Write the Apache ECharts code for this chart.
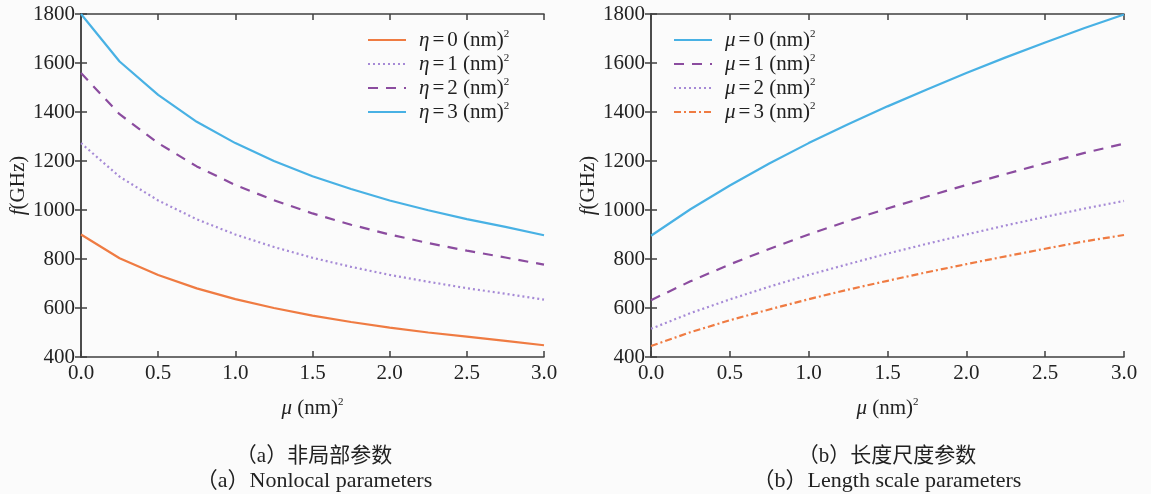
<!DOCTYPE html>
<html>
<head>
<meta charset="utf-8">
<script src="https://cdn.jsdelivr.net/npm/echarts@6/dist/echarts.min.js"></script>
<style>
html,body{margin:0;padding:0;background:#fbfbfb;}
#main{width:1151px;height:494px;}
</style>
</head>
<body>
<div id="main"></div>
<script>
// x values (nm)^2
var xs = [0, 0.25, 0.5, 0.75, 1.0, 1.25, 1.5, 1.75, 2.0, 2.25, 2.5, 2.75, 3.0];
var xTicks = ['0.0', '0.5', '1.0', '1.5', '2.0', '2.5', '3.0'];

// (a) nonlocal parameter eta
var eta0 = [900, 803, 735, 680, 636, 600, 569, 543, 520, 500, 483, 466, 448];
var eta1 = [1273, 1136, 1039, 962, 900, 849, 805, 768, 735, 707, 681, 658, 634];
var eta2 = [1559, 1391, 1273, 1178, 1102, 1040, 986, 940, 900, 865, 834, 806, 777];
var eta3 = [1800, 1606, 1470, 1360, 1273, 1200, 1138, 1086, 1039, 999, 963, 931, 897];

// (b) length scale parameter mu
var mu0 = [895, 1003, 1100, 1190, 1273, 1350, 1423, 1492, 1559, 1623, 1684, 1743, 1798];
var mu1 = [632, 709, 778, 841, 900, 955, 1006, 1055, 1102, 1147, 1191, 1233, 1271];
var mu2 = [515, 579, 635, 687, 735, 779, 822, 862, 900, 937, 972, 1006, 1037];
var mu3 = [445, 501, 550, 594, 636, 675, 711, 746, 779, 811, 842, 872, 898];

var ORANGE = '#ef7b42', LPURPLE = '#a68ad6', DPURPLE = '#8b4c9f', BLUE = '#48b1e4';
var FONT = '"Liberation Serif","Noto Sans CJK SC",serif';
var AX = '#404040';

function pairs(ys){ return xs.map(function(x, i){ return [x, ys[i]]; }); }

var rich = {
	i: {fontFamily: FONT, fontStyle: 'italic', fontSize: 21, color: '#222', lineHeight: 22},
	n: {fontFamily: FONT, fontSize: 21, color: '#222', lineHeight: 22},
	e: {fontFamily: FONT, fontSize: 21, color: '#222', lineHeight: 22, padding: [0, 3, 0, 3]},
	s: {fontFamily: FONT, fontSize: 11, color: '#222', verticalAlign: 'top', lineHeight: 22}
};

function xAxes(gi){
	return [{
		gridIndex: gi, type: 'value', min: 0, max: 3, interval: 0.5,
		axisLine: {lineStyle: {color: AX, width: 1.5}},
		axisTick: {inside: true, length: 6, lineStyle: {color: AX, width: 1.5}},
		axisLabel: {margin: 6, fontFamily: FONT, fontSize: 21, color: '#222',
			formatter: function(v){ return v.toFixed(1); }},
		splitLine: {show: false},
		name: '{i|μ}{n| (nm)}{s|2}', nameLocation: 'middle', nameGap: 40,
		nameTextStyle: {rich: rich}
	}, {
		gridIndex: gi, type: 'value', min: 0, max: 3, interval: 0.5, position: 'top',
		axisLine: {lineStyle: {color: AX, width: 1.5}},
		axisTick: {inside: true, length: 6, lineStyle: {color: AX, width: 1.5}},
		axisLabel: {show: false}, splitLine: {show: false}
	}];
}
function yAxes(gi){
	return [{
		gridIndex: gi, type: 'value', min: 400, max: 1800, interval: 200,
		axisLine: {show: true, lineStyle: {color: AX, width: 1.5}},
		axisTick: {show: true, inside: true, length: 6, lineStyle: {color: AX, width: 1.5}},
		axisLabel: {margin: 6, fontFamily: FONT, fontSize: 21, color: '#222',
			formatter: function(v){ return String(v); }},
		splitLine: {show: false},
		name: '{i|f}{n|(GHz)}', nameLocation: 'middle', nameGap: 49, nameRotate: 90,
		nameTextStyle: {rich: rich}
	}, {
		gridIndex: gi, type: 'value', min: 400, max: 1800, interval: 200, position: 'right',
		axisLine: {show: true, lineStyle: {color: AX, width: 1.5}},
		axisTick: {show: true, inside: true, length: 6, lineStyle: {color: AX, width: 1.5}},
		axisLabel: {show: false}, splitLine: {show: false}
	}];
}

function line(name, ys, gi, color, type){
	return {
		name: name, type: 'line', data: pairs(ys), xAxisIndex: gi * 2, yAxisIndex: gi * 2,
		showSymbol: false, symbol: 'none', smooth: false,
		lineStyle: {color: color, width: 2.2, type: type}, itemStyle: {color: color},
		emphasis: {disabled: true}
	};
}

var etaNames = ['η=0', 'η=1', 'η=2', 'η=3'];
var muNames = ['μ=0', 'μ=1', 'μ=2', 'μ=3'];
function legendFmt(name){
	return '{i|' + name.charAt(0) + '}{e|=}{n|' + name.slice(2) + ' (nm)}{s|2}';
}
function legend(names, left){
	return {
		data: names, orient: 'vertical', left: left, top: 24, itemGap: 2.5,
		itemWidth: 38, itemHeight: 20,
		itemStyle: {opacity: 0},
		formatter: legendFmt, textStyle: {rich: rich, padding: [0, 0, 0, 8]}
	};
}

var myChart = echarts.init(document.getElementById('main'));
var option = {
	backgroundColor: '#fbfbfb',
	animation: false,
	grid: [
		{left: 81, right: 607, top: 14, bottom: 137},
		{left: 651, right: 27, top: 14, bottom: 137}
	],
	xAxis: xAxes(0).concat(xAxes(1).map(function(a){ a.gridIndex = 1; return a; })),
	yAxis: yAxes(0).concat(yAxes(1).map(function(a){ a.gridIndex = 1; return a; })),
	legend: [legend(etaNames, 362), legend(muNames, 668)],
	series: [
		line(etaNames[0], eta0, 0, ORANGE, 'solid'),
		line(etaNames[1], eta1, 0, LPURPLE, [2, 3]),
		line(etaNames[2], eta2, 0, DPURPLE, [10, 8]),
		line(etaNames[3], eta3, 0, BLUE, 'solid'),
		line(muNames[0], mu0, 1, BLUE, 'solid'),
		line(muNames[1], mu1, 1, DPURPLE, [10, 8]),
		line(muNames[2], mu2, 1, LPURPLE, [2, 3]),
		line(muNames[3], mu3, 1, ORANGE, [7, 3, 2, 3])
	],
	graphic: [
		{type: 'text', x: 314, y: 456, style: {text: '（a）非局部参数', font: '21px ' + FONT, fill: '#222', align: 'center', verticalAlign: 'middle'}},
		{type: 'text', x: 314, y: 481, style: {text: '（a）Nonlocal parameters', font: '22px ' + FONT, fill: '#222', align: 'center', verticalAlign: 'middle'}},
		{type: 'text', x: 887, y: 456, style: {text: '（b）长度尺度参数', font: '21px ' + FONT, fill: '#222', align: 'center', verticalAlign: 'middle'}},
		{type: 'text', x: 887, y: 481, style: {text: '（b）Length scale parameters', font: '22px ' + FONT, fill: '#222', align: 'center', verticalAlign: 'middle'}}
	]
};
myChart.setOption(option);
</script>
</body>
</html>
